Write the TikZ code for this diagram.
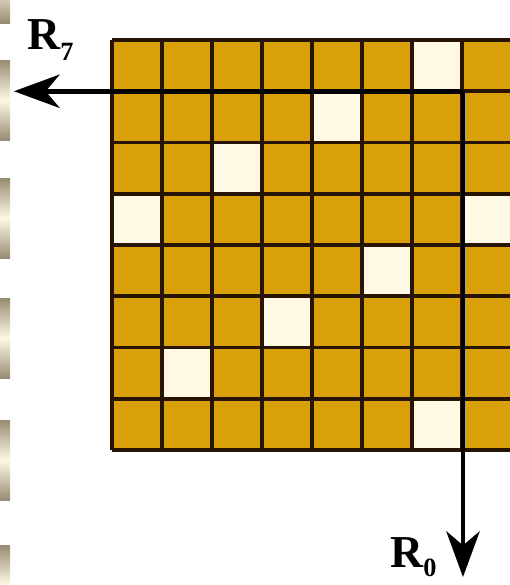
\documentclass[tikz,border=0pt]{standalone}
\usepackage{fontspec}
\setmainfont{Liberation Serif}
\usetikzlibrary{arrows.meta}

\definecolor{gold}{RGB}{218,160,10}
\definecolor{cream}{RGB}{255,249,228}
\definecolor{gridline}{RGB}{40,20,5}
\definecolor{reel}{RGB}{150,140,115}

\begin{document}
\begin{tikzpicture}[
		x=0.02cm,y=-0.02cm,
		font=\fontsize{26}{26}\selectfont\bfseries,
		cell/.style={fill=gold},
		hole/.style={fill=cream},
		grid/.style={gridline,line width=2pt},
		rot/.style={-{Stealth[length=26pt,width=19pt,inset=8pt]},line width=2.6pt,black},
		lbl/.style={inner sep=0pt}
		]
		\useasboundingbox (0,0) rectangle (510,585);
		\clip (0,0) rectangle (510,585);
		% strip on the left edge
		\foreach \t in {-57,60,178,298,420,545}
			\shade[top color=reel,bottom color=reel,middle color=cream] (0,\t) rectangle (10,\t+80);
		% cells
		\fill[cell] (112,40) rectangle (520,450);
		\foreach \r/\c in {0/6,1/4,2/2,3/0,3/7,4/5,5/3,6/1,7/6}
			\fill[hole] (112+50*\c,40+51.25*\r) rectangle (162+50*\c,91.25+51.25*\r);
		\foreach \c in {0,...,8}
			\draw[grid] (112+50*\c,40) -- (112+50*\c,450);
		\foreach \r in {0,...,8}
			\draw[grid] (112,40+51.25*\r) -- (520,40+51.25*\r);

		\coordinate (corner) at (463,91.25);
		\coordinate (west) at (14,91.25);
		\coordinate (south) at (463,577);
		\draw[rot] (corner) -- (west);
		\draw[rot] (corner) -- (south);

		\node[lbl,anchor=base west] (r7) at (27,49) {R\raisebox{-0.25em}{\fontsize{15}{15}\selectfont 7}};
		\node[lbl,anchor=base west] (r0) at (390,567) {R\raisebox{-0.2em}{\fontsize{15}{15}\selectfont 0}};
	\end{tikzpicture}
\end{document}
